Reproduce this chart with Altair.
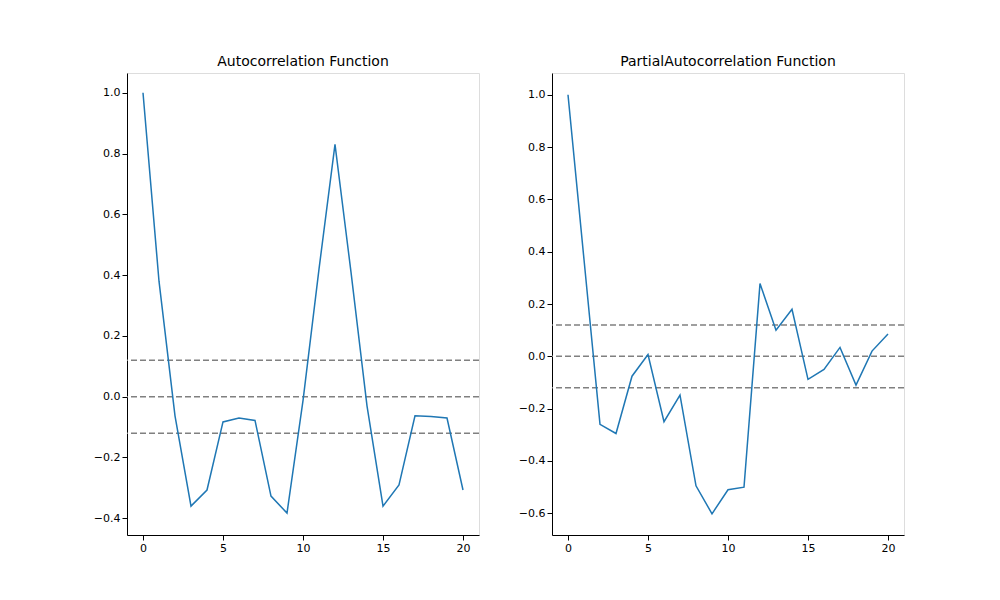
import altair as alt
import pandas as pd

lags = list(range(21))
acf_vals = [1.0, 0.38, -0.063, -0.36, -0.307, -0.083, -0.07, -0.078, -0.327, -0.383,
            -0.013, 0.42, 0.83, 0.41, -0.03, -0.36, -0.29, -0.063, -0.065, -0.07, -0.307]
pacf_vals = [1.0, 0.37, -0.26, -0.295, -0.076, 0.007, -0.25, -0.148, -0.495, -0.602,
             -0.51, -0.5, 0.278, 0.1, 0.18, -0.088, -0.05, 0.034, -0.11, 0.02, 0.085]
conf_lines = [-0.12, 0.0, 0.12]


def panel(vals, title, ydom):
    df = pd.DataFrame({"lag": lags, "value": vals})
    line = alt.Chart(df).mark_line(color="#1f77b4", strokeWidth=1.5).encode(
        x=alt.X("lag:Q", scale=alt.Scale(domain=[-1, 21], nice=False),
                axis=alt.Axis(values=[0, 5, 10, 15, 20], title=None, grid=False,
                              format="d", labelFontSize=11, tickColor="black",
                              domainColor="black", labelColor="black")),
        y=alt.Y("value:Q", scale=alt.Scale(domain=ydom, nice=False),
                axis=alt.Axis(title=None, grid=False, format=".1f", tickCount=8,
                              labelFontSize=11, tickColor="black", domainColor="black",
                              labelColor="black")),
    )
    rules = alt.Chart(pd.DataFrame({"y": conf_lines})).mark_rule(
        color="gray", strokeDash=[6, 3], strokeWidth=1.5).encode(y="y:Q")
    return (rules + line).properties(
        width=352, height=462,
        title=alt.TitleParams(title, fontSize=14, fontWeight="normal", color="black"))


left = panel(acf_vals, "Autocorrelation Function", [-0.455, 1.065])
right = panel(pacf_vals, "PartialAutocorrelation Function", [-0.683, 1.083])

chart = alt.hconcat(left, right, spacing=36).properties(
    padding={"left": 84, "top": 46, "right": 10, "bottom": 10}
).configure_view(stroke="#000000", strokeOpacity=1, strokeWidth=1).configure(
    font="DejaVu Sans")

chart.save("out.html", embed_options={"renderer": "svg", "actions": False})
